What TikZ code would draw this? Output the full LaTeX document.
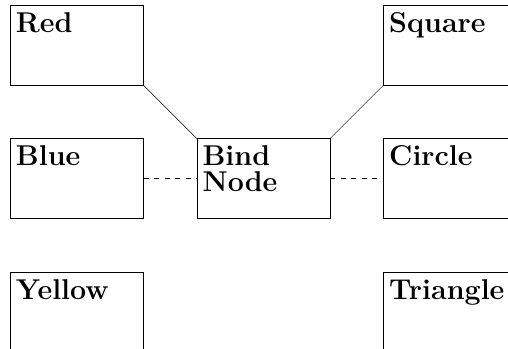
\documentclass[tikz,border=0pt]{standalone}
\usepackage{tikz}
\usetikzlibrary{positioning}

\begin{document}
\begin{tikzpicture}[node distance=1.6cm,
		box/.style={draw, minimum width=4cm, minimum height=2.4cm, inner sep=0pt, label={[tag]north west:#1}},
		tag/.style={anchor=north west, inner xsep=0.17cm, inner ysep=0.22cm, align=left, font=\fontsize{24.5pt}{22.2pt}\selectfont\bfseries},
		link/.style={dash pattern=on 4.5pt off 4.5pt}]
		% frame (boxes on the right and bottom run off the page)
		\useasboundingbox (-0.301,0.150) rectangle (14.977,-10.346);
		\clip (-0.301,0.150) rectangle (14.977,-10.346);
		% left column
		\node[box=Red, anchor=north west] (red) at (0,0) {};
		\node[box=Blue, below=of red] (blue) {};
		\node[box=Yellow, below=of blue] (yellow) {};
		% middle
		\node[box={Bind\\Node}, right=of blue] (bind) {};
		% right column
		\node[box=Circle, right=of bind] (circ) {};
		\node[box=Square, above=of circ] (square) {};
		\node[box=Triangle, below=of circ] (tri) {};
		% connections
		\draw (red.south east) -- (bind.north west);
		\draw (square.south west) -- (bind.north east);
		\draw[link] (blue) -- (bind);
		\draw[link] (bind) -- (circ);
	\end{tikzpicture}
\end{document}
